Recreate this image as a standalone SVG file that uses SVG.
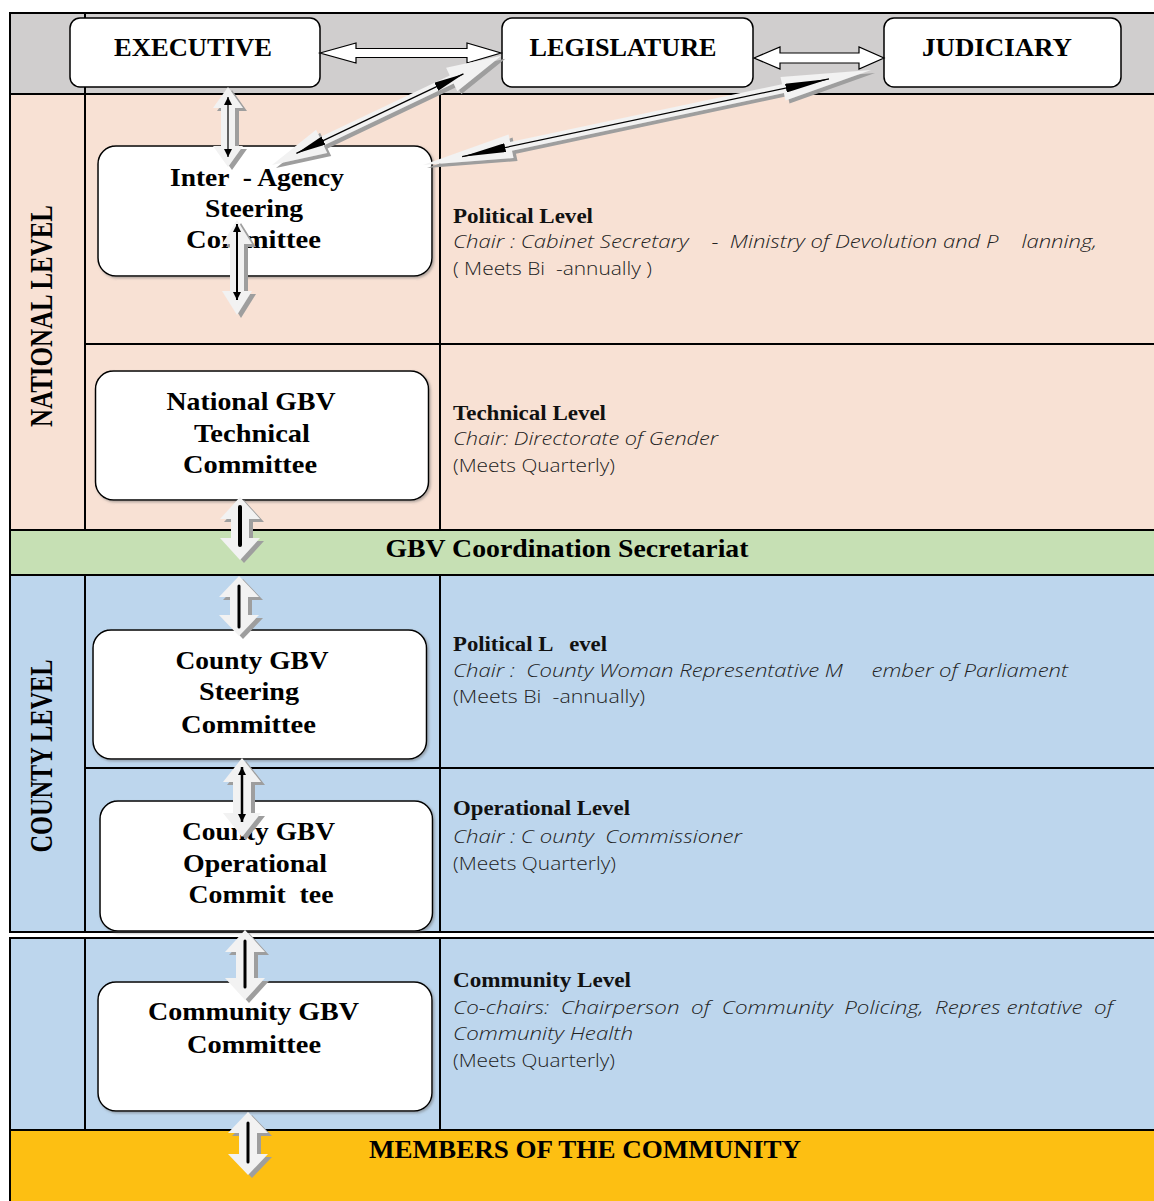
<svg xmlns="http://www.w3.org/2000/svg" width="1154" height="1201" viewBox="0 0 1154 1201">
<style>
.bx{fill:#fff;stroke:#000;stroke-width:1.5}
.hb{font-family:"Liberation Serif","Times New Roman",serif;font-weight:bold;font-size:26px;fill:#000;text-anchor:middle}
.hd{font-family:"Liberation Serif","Times New Roman",serif;font-weight:bold;font-size:20px;fill:#111}
.it{font-family:"Open Sans","Liberation Sans",sans-serif;font-style:italic;font-weight:300;font-size:18.5px;fill:#222}
.rg{font-family:"Open Sans","Liberation Sans",sans-serif;font-weight:300;font-size:18.5px;fill:#222}
.ln{stroke:#000;stroke-width:2;fill:none}
.blk{fill:#f2f2f2}
.ha{fill:#fff;stroke:#000;stroke-width:1.2}
.in{stroke:#000;fill:none}
</style>
<defs>
<filter id="sh" x="-30%" y="-30%" width="160%" height="160%"><feDropShadow dx="4" dy="3" stdDeviation="0.3" flood-color="#9e9e9e" flood-opacity="1"/></filter>
<filter id="bs" x="-5%" y="-5%" width="110%" height="115%"><feDropShadow dx="1.5" dy="1.5" stdDeviation="0.8" flood-color="#666" flood-opacity="0.5"/></filter>
<marker id="mS" viewBox="0 0 8 8" refX="8" refY="4" markerWidth="8" markerHeight="8" markerUnits="userSpaceOnUse" orient="auto-start-reverse"><path d="M0,0 L8,4 L0,8 z" fill="#000"/></marker>
<marker id="mL1" viewBox="0 0 30 9" refX="30" refY="4.5" markerWidth="30" markerHeight="9" markerUnits="userSpaceOnUse" orient="auto-start-reverse"><path d="M0,0 L30,4.5 L0,9 z" fill="#000"/></marker>
<marker id="mL2" viewBox="0 0 44 9" refX="44" refY="4.5" markerWidth="44" markerHeight="9" markerUnits="userSpaceOnUse" orient="auto-start-reverse"><path d="M0,0 L44,4.5 L0,9 z" fill="#000"/></marker>
</defs>

<g id="background">
<rect x="0" y="0" width="1154" height="1201" fill="#fff"/>
<rect x="10" y="13" width="1144" height="81" fill="#d0cece"/>
<rect x="10" y="94" width="1144" height="436" fill="#f8e1d4"/>
<rect x="10" y="530" width="1144" height="45" fill="#c6e0b4"/>
<rect x="10" y="575" width="1144" height="357" fill="#bdd6ed"/>
<rect x="10" y="938" width="1144" height="192" fill="#bdd6ed"/>
<rect x="10" y="1130" width="1144" height="71" fill="#fdbf12"/>
</g>

<g id="grid" class="ln">
<line x1="9" y1="13" x2="1154" y2="13"/>
<line x1="10" y1="12" x2="10" y2="933"/>
<line x1="10" y1="937" x2="10" y2="1201"/>
<line x1="85" y1="13" x2="85" y2="530"/>
<line x1="85" y1="575" x2="85" y2="932"/>
<line x1="85" y1="938" x2="85" y2="1130"/>
<line x1="440" y1="94" x2="440" y2="530"/>
<line x1="440" y1="575" x2="440" y2="932"/>
<line x1="440" y1="938" x2="440" y2="1130"/>
<line x1="10" y1="94" x2="1154" y2="94"/>
<line x1="85" y1="344" x2="1154" y2="344"/>
<line x1="10" y1="530" x2="1154" y2="530"/>
<line x1="10" y1="575" x2="1154" y2="575"/>
<line x1="85" y1="768" x2="1154" y2="768"/>
<line x1="10" y1="932" x2="1154" y2="932"/>
<line x1="10" y1="938" x2="1154" y2="938"/>
<line x1="10" y1="1130" x2="1154" y2="1130"/>
</g>

<g id="band-labels">
<text class="hb" transform="translate(52,316) rotate(-90) scale(1,1.25)" font-size="24" textLength="222" lengthAdjust="spacingAndGlyphs">NATIONAL LEVEL</text>
<text class="hb" transform="translate(52,756) rotate(-90) scale(1,1.25)" font-size="24" textLength="193" lengthAdjust="spacingAndGlyphs">COUNTY LEVEL</text>
<text class="hb" x="567" y="557" textLength="363" lengthAdjust="spacingAndGlyphs">GBV Coordination Secretariat</text>
<text class="hb" x="585" y="1158" textLength="432" lengthAdjust="spacingAndGlyphs">MEMBERS OF THE COMMUNITY</text>
</g>

<g id="executive">
<rect class="bx" x="70" y="18" width="250" height="69" rx="10"/>
<text class="hb" x="193" y="56" textLength="158" lengthAdjust="spacingAndGlyphs">EXECUTIVE</text>
</g>
<g id="legislature">
<rect class="bx" x="502" y="18" width="251" height="69" rx="10"/>
<text class="hb" x="623" y="56" textLength="187" lengthAdjust="spacingAndGlyphs">LEGISLATURE</text>
</g>
<g id="judiciary">
<rect class="bx" x="884" y="18" width="237" height="69" rx="10"/>
<text class="hb" x="997" y="56" textLength="150" lengthAdjust="spacingAndGlyphs">JUDICIARY</text>
</g>

<g id="inter-agency">
<rect class="bx" x="98" y="146" width="334" height="130" rx="18" filter="url(#bs)"/>
<text class="hb" x="257" y="186" textLength="174" lengthAdjust="spacingAndGlyphs" xml:space="preserve">Inter  - Agency</text>
<text class="hb" x="254" y="217" textLength="98" lengthAdjust="spacingAndGlyphs">Steering</text>
<text class="hb" x="253.5" y="248" textLength="135" lengthAdjust="spacingAndGlyphs">Committee</text>
</g>
<g id="national-political-info">
<text class="hd" x="453" y="222.5" textLength="140" lengthAdjust="spacingAndGlyphs">Political Level</text>
<text class="it" x="453" y="248" textLength="644" lengthAdjust="spacingAndGlyphs" xml:space="preserve">Chair : Cabinet Secretary    -  Ministry of Devolution and P    lanning,</text>
<text class="rg" x="453" y="275" textLength="199" lengthAdjust="spacingAndGlyphs" xml:space="preserve">( Meets Bi  -annually )</text>
</g>

<g id="national-technical">
<rect class="bx" x="95.5" y="371" width="333" height="129" rx="18" filter="url(#bs)"/>
<text class="hb" x="251" y="410" textLength="169" lengthAdjust="spacingAndGlyphs">National GBV</text>
<text class="hb" x="252" y="441.5" textLength="116" lengthAdjust="spacingAndGlyphs">Technical</text>
<text class="hb" x="250" y="473" textLength="134" lengthAdjust="spacingAndGlyphs">Committee</text>
</g>
<g id="national-technical-info">
<text class="hd" x="453" y="420" textLength="153" lengthAdjust="spacingAndGlyphs">Technical Level</text>
<text class="it" x="453" y="445" textLength="265" lengthAdjust="spacingAndGlyphs">Chair: Directorate of Gender</text>
<text class="rg" x="453" y="471.5" textLength="162" lengthAdjust="spacingAndGlyphs">(Meets Quarterly)</text>
</g>

<g id="county-steering">
<rect class="bx" x="93" y="630" width="333.5" height="129" rx="18" filter="url(#bs)"/>
<text class="hb" x="252" y="669" textLength="153" lengthAdjust="spacingAndGlyphs">County GBV</text>
<text class="hb" x="249" y="700" textLength="100" lengthAdjust="spacingAndGlyphs">Steering</text>
<text class="hb" x="248.5" y="733" textLength="135" lengthAdjust="spacingAndGlyphs">Committee</text>
</g>
<g id="county-political-info">
<text class="hd" x="453" y="651" textLength="154" lengthAdjust="spacingAndGlyphs" xml:space="preserve">Political L   evel</text>
<text class="it" x="453" y="677" textLength="615" lengthAdjust="spacingAndGlyphs" xml:space="preserve">Chair :  County Woman Representative M     ember of Parliament</text>
<text class="rg" x="453" y="703" textLength="192" lengthAdjust="spacingAndGlyphs" xml:space="preserve">(Meets Bi  -annually)</text>
</g>

<g id="county-operational">
<rect class="bx" x="100" y="801" width="332.5" height="130" rx="18" filter="url(#bs)"/>
<text class="hb" x="258.5" y="840" textLength="153" lengthAdjust="spacingAndGlyphs">County GBV</text>
<text class="hb" x="255" y="871.5" textLength="144" lengthAdjust="spacingAndGlyphs">Operational</text>
<text class="hb" x="261" y="903" textLength="145" lengthAdjust="spacingAndGlyphs" xml:space="preserve">Commit  tee</text>
</g>
<g id="county-operational-info">
<text class="hd" x="453" y="815" textLength="177" lengthAdjust="spacingAndGlyphs">Operational Level</text>
<text class="it" x="453" y="843" textLength="289" lengthAdjust="spacingAndGlyphs" xml:space="preserve">Chair : C ounty  Commissioner</text>
<text class="rg" x="453" y="870" textLength="163" lengthAdjust="spacingAndGlyphs">(Meets Quarterly)</text>
</g>

<g id="community">
<rect class="bx" x="98" y="982" width="334" height="129" rx="18" filter="url(#bs)"/>
<text class="hb" x="253.5" y="1020" textLength="211" lengthAdjust="spacingAndGlyphs">Community GBV</text>
<text class="hb" x="254" y="1052.5" textLength="134" lengthAdjust="spacingAndGlyphs">Committee</text>
</g>
<g id="community-info">
<text class="hd" x="453" y="986.5" textLength="178" lengthAdjust="spacingAndGlyphs">Community Level</text>
<text class="it" x="453" y="1014" textLength="660" lengthAdjust="spacingAndGlyphs" xml:space="preserve">Co-chairs:  Chairperson  of  Community  Policing,  Repres entative  of</text>
<text class="it" x="453" y="1040" textLength="180" lengthAdjust="spacingAndGlyphs">Community Health</text>
<text class="rg" x="453" y="1066.5" textLength="162" lengthAdjust="spacingAndGlyphs">(Meets Quarterly)</text>
</g>

<g id="connectors">
<path class="ha" d="M320,53 L356,43 L356,48.5 L467,48.5 L467,43 L501,53 L467,63 L467,57.5 L356,57.5 L356,63 Z"/>
<path class="ha" d="M754,58 L780,47 L780,53 L859,53 L859,47 L884,58 L859,69 L859,63 L780,63 L780,69 Z"/>

<g filter="url(#sh)"><path class="blk" transform="translate(272,165) rotate(-25.45)" d="M0,0 L55,-13 L55,-4.5 L199,-4.5 L199,-13 L254,0 L199,13 L199,4.5 L55,4.5 L55,13 Z"/></g>
<line class="in" stroke-width="1.2" transform="translate(272,165) rotate(-25.45)" x1="27" y1="0" x2="212" y2="0" marker-start="url(#mL1)" marker-end="url(#mL1)"/>

<g filter="url(#sh)"><path class="blk" transform="translate(423,165) rotate(-11.97)" d="M0,0 L90,-12 L90,-4.5 L368,-4.5 L368,-12 L458,0 L368,12 L368,4.5 L90,4.5 L90,12 Z"/></g>
<line class="in" stroke-width="1.2" transform="translate(423,165) rotate(-11.97)" x1="40" y1="0" x2="415" y2="0" marker-start="url(#mL2)" marker-end="url(#mL2)"/>

<g filter="url(#sh)"><path class="blk" d="M228,87 L243,108 L235,108 L235,146 L243,146 L228,167 L213,146 L221,146 L221,108 L213,108 Z"/></g>
<line class="in" stroke-width="1.2" x1="228" y1="97" x2="228" y2="157" marker-start="url(#mS)" marker-end="url(#mS)"/>

<g filter="url(#sh)"><path class="blk" d="M237,220 L252,244 L244,244 L244,291 L252,291 L237,315 L222,291 L230,291 L230,244 L222,244 Z"/></g>
<line class="in" stroke-width="2" x1="237" y1="224" x2="237" y2="300" marker-start="url(#mS)" marker-end="url(#mS)"/>

<g filter="url(#sh)"><path class="blk" d="M240,497 L260,519 L249,519 L249,538 L260,538 L240,560 L220,538 L231,538 L231,519 L220,519 Z"/></g>
<line class="in" stroke-width="4" stroke-linecap="round" x1="240" y1="507" x2="240" y2="545"/>

<g filter="url(#sh)"><path class="blk" d="M239,576 L259,597 L248,597 L248,615 L259,615 L239,636 L219,615 L230,615 L230,597 L219,597 Z"/></g>
<line class="in" stroke-width="3" stroke-linecap="round" x1="239" y1="586" x2="239" y2="627"/>

<g filter="url(#sh)"><path class="blk" d="M242,758 L261,782 L251,782 L251,813 L261,813 L242,837 L223,813 L233,813 L233,782 L223,782 Z"/></g>
<line class="in" stroke-width="2.5" x1="242" y1="767" x2="242" y2="822" marker-start="url(#mS)" marker-end="url(#mS)"/>

<g filter="url(#sh)"><path class="blk" d="M245,930 L265,952 L254,952 L254,978 L265,978 L245,1000 L225,978 L236,978 L236,952 L225,952 Z"/></g>
<line class="in" stroke-width="3" stroke-linecap="round" x1="245" y1="941" x2="245" y2="987"/>

<g filter="url(#sh)"><path class="blk" d="M248,1112 L268,1133 L257,1133 L257,1154 L268,1154 L248,1175 L228,1154 L239,1154 L239,1133 L228,1133 Z"/></g>
<line class="in" stroke-width="3" stroke-linecap="round" x1="248" y1="1123" x2="248" y2="1162"/>
</g>
</svg>
